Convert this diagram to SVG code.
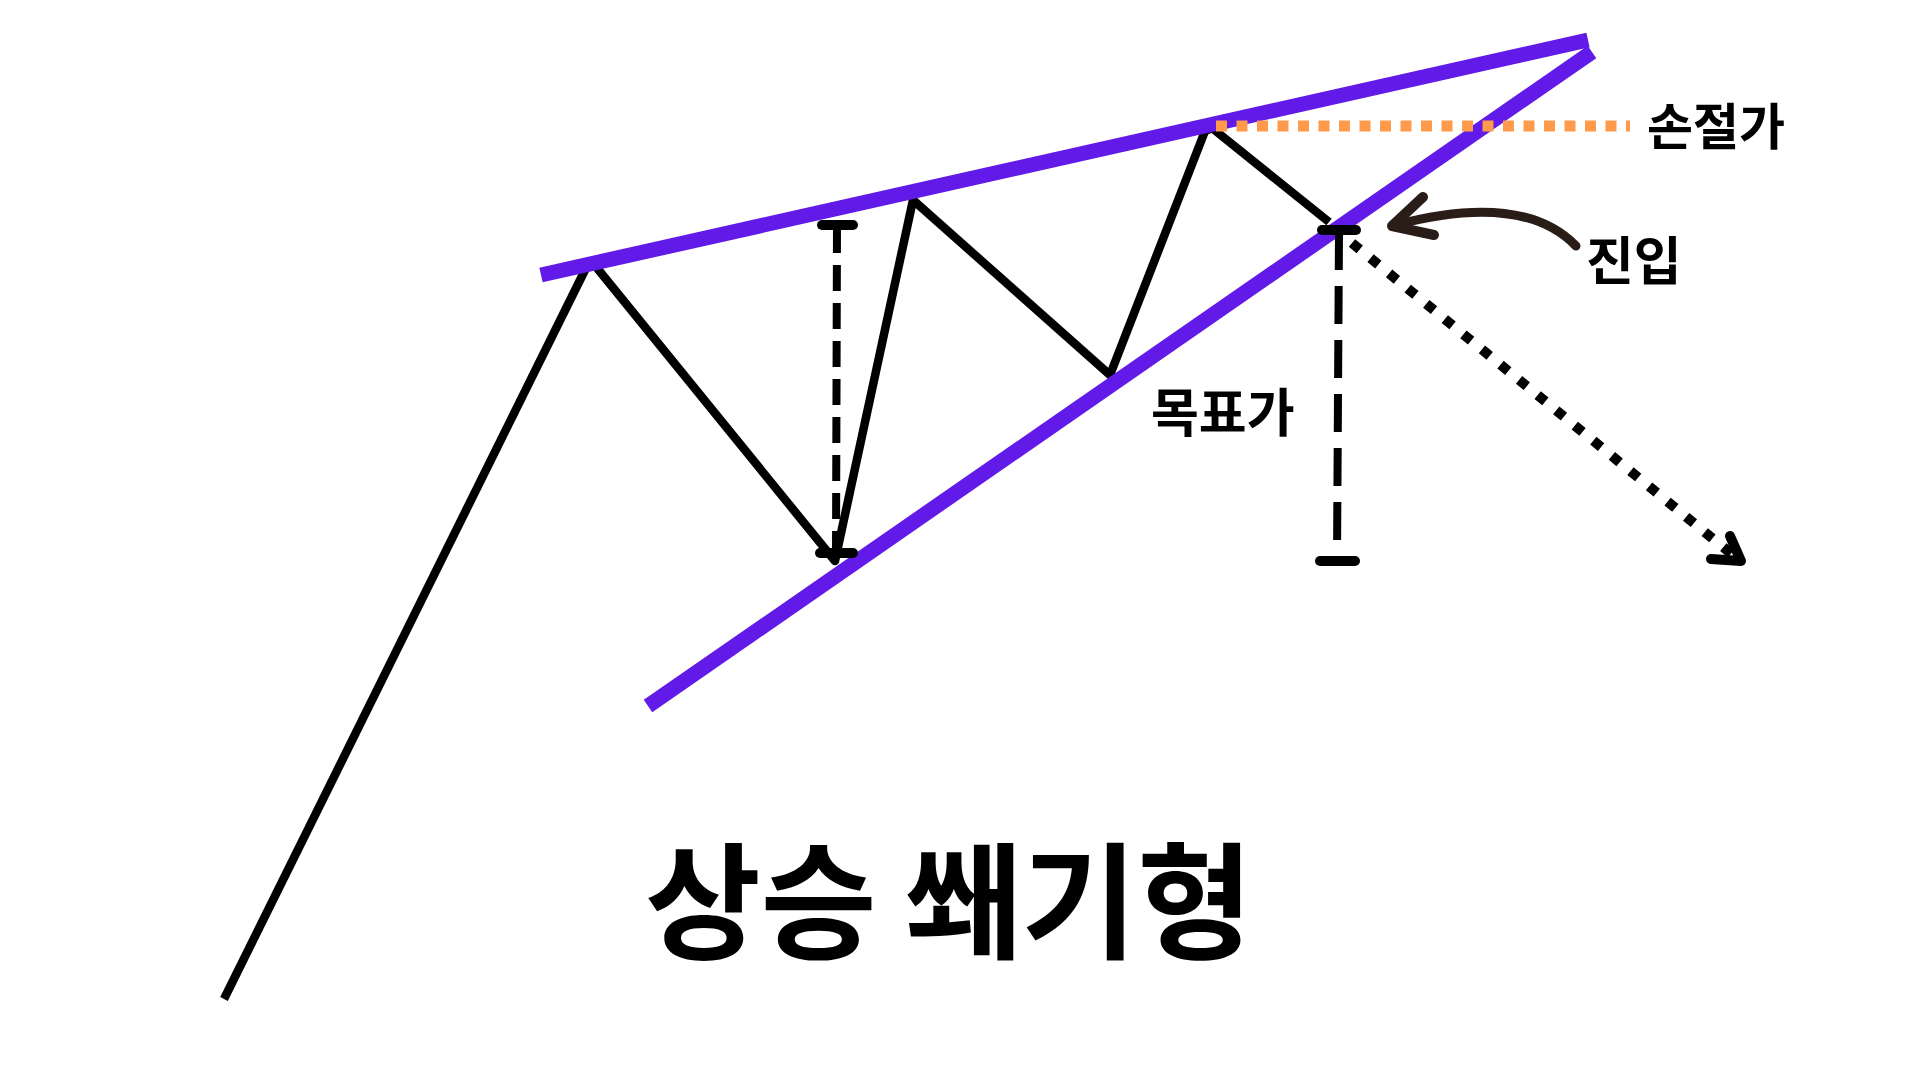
<svg xmlns="http://www.w3.org/2000/svg" width="1920" height="1080" viewBox="0 0 1920 1080">
<style>
.blk{stroke:#000;stroke-width:8.5;fill:none;stroke-linecap:butt;stroke-linejoin:round}
.pur{stroke:#611ae8;stroke-width:15;fill:none;stroke-linecap:butt}
.cap{stroke:#000;stroke-width:10;stroke-linecap:round;stroke-linejoin:round;fill:none}
.dash{stroke:#000;stroke-width:8;fill:none}
.lbl{font-family:"Noto Sans CJK KR","Noto Sans",sans-serif;font-weight:700;fill:#000}
.ttl{font-family:"Noto Sans CJK KR","Noto Sans",sans-serif;font-weight:700;fill:#000}
</style>
<rect width="1920" height="1080" fill="#fff"/>
<g id="connectors">
<line class="blk" x1="224" y1="999" x2="586" y2="268"/>
<polyline class="blk" points="597,268 835,561 913,200 1110,375 1205,131 1212,128 1329,222"/>
<line class="pur" x1="541" y1="275" x2="1588" y2="40"/>
<line class="pur" x1="648" y1="706" x2="1592" y2="52"/>
<line stroke="#ff9a4d" stroke-width="11" stroke-dasharray="11 9.5" x1="1216" y1="126" x2="1630" y2="126"/>
<line class="dash" stroke-dasharray="26 12" x1="837" y1="227" x2="836" y2="552"/>
<line class="cap" x1="822" y1="225" x2="853" y2="225"/>
<line class="cap" x1="820" y1="553" x2="853" y2="553"/>
<line class="dash" stroke-dasharray="38 16" x1="1339" y1="232" x2="1337" y2="559"/>
<line class="cap" x1="1322" y1="230" x2="1356" y2="230"/>
<line class="cap" x1="1320" y1="561" x2="1355" y2="561"/>
<line stroke="#000" stroke-width="10" stroke-dasharray="10 14" x1="1352" y1="243" x2="1734" y2="556"/>
<polyline class="cap" points="1730,536 1741,561 1711,559"/>
<path d="M1576,246 C1545,214 1490,200 1395,225" stroke="#2a1d17" stroke-width="9" fill="none" stroke-linecap="round"/>
<polyline points="1423,197 1392,226 1434,235" stroke="#2a1d17" stroke-width="10" fill="none" stroke-linecap="round" stroke-linejoin="round"/>
</g>
<g id="label-stop"><text class="lbl" x="1647" y="145" font-size="50">손절가</text></g>
<g id="label-entry"><text class="lbl" x="1586" y="280" font-size="52">진입</text></g>
<g id="label-target"><text class="lbl" x="1151" y="432" font-size="52">목표가</text></g>
<g id="title"><text class="ttl" x="949" y="949" font-size="126" text-anchor="middle">상승 쐐기형</text></g>
</svg>
